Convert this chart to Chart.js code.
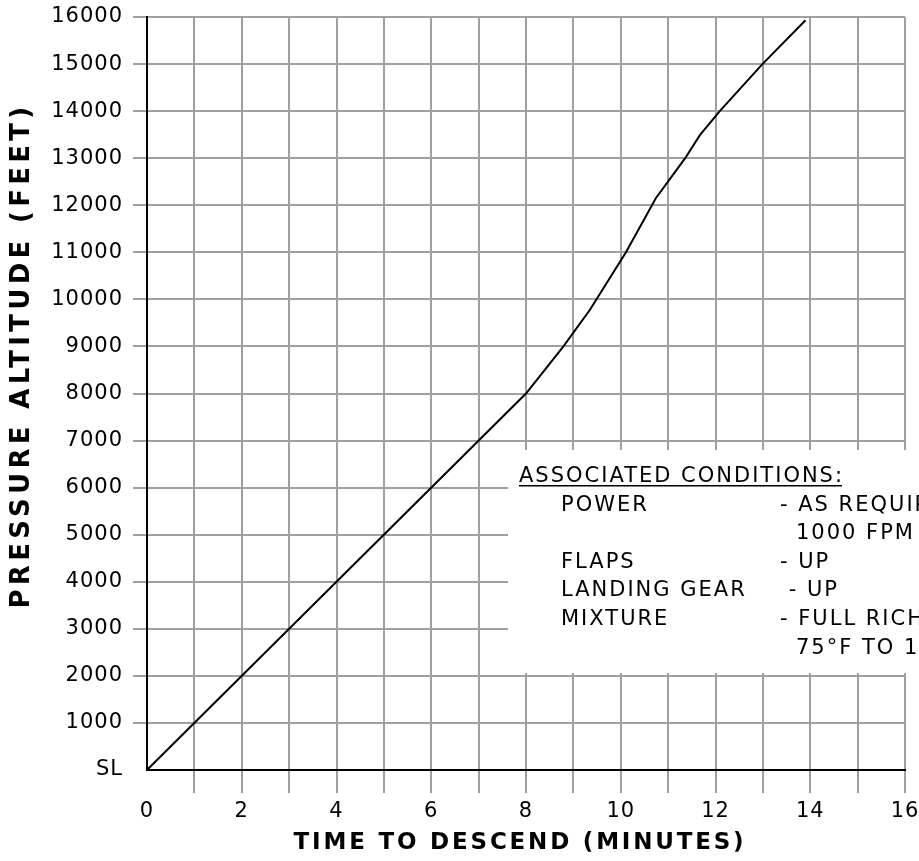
<!DOCTYPE html>
<html>
<head>
<meta charset="utf-8">
<script src="https://cdn.jsdelivr.net/npm/chart.js@4.4.1/dist/chart.umd.min.js"></script>
<style>
  html, body { margin: 0; padding: 0; background: #fff; }
  canvas { display: block; }
</style>
</head>
<body>
<canvas id="chart" width="919" height="861"></canvas>
<script>
// time to descend vs pressure altitude
const TIME_MIN = [0, 8, 8.79, 9.35, 10.11, 10.74, 11.36, 11.67, 12.09, 12.99, 13.9];
const ALTITUDE_FT = [0, 8000, 9000, 9780, 11000, 12150, 13000, 13490, 14000, 15000, 15930];

// tick labels, indexed by minute / by thousand feet
const X_TICK_LABELS = ['0', '', '2', '', '4', '', '6', '', '8', '', '10', '', '12', '', '14', '', '16'];
const Y_TICK_LABELS = ['SL', '1000', '2000', '3000', '4000', '5000', '6000', '7000', '8000',
    '9000', '10000', '11000', '12000', '13000', '14000', '15000', '16000'];

const NOTE_HEADER = 'ASSOCIATED CONDITIONS:';
const NOTE_LABELS = ['POWER', '', 'FLAPS', 'LANDING GEAR', 'MIXTURE', ''];
const NOTE_VALUES = ['- AS REQUIRED TO MAINTAIN', '1000 FPM', '- UP', ' - UP', '- FULL RICH', '75°F TO 100°F'];

const GRID = '#a0a0a0';
const FONT = '"DejaVu Sans", Verdana, sans-serif';

// hide the grid/tick at zero, the black axis line is drawn there instead
const gridColor = (c) => (c.tick && c.tick.value === 0 ? 'rgba(0,0,0,0)' : GRID);

// Chart.js has no letter spacing option, so wrap the scale text calls
const textTweaks = {
    x: { title: '2.8px', labels: '1px', dx: -6, dy: 0 },
    y: { title: '4.3px', labels: '1px', dx: 0, dy: -38 }
};

const spacingPlugin = {
    id: 'spacing',
    beforeDraw(chart) {
        Object.keys(textTweaks).forEach(id => {
            const scale = chart.scales[id];
            if (scale._tweaked) return;
            scale._tweaked = true;
            const t = textTweaks[id];
            const drawTitle = scale.drawTitle;
            const drawLabels = scale.drawLabels;
            scale.drawTitle = function () {
                const ctx = this.ctx;
                ctx.save();
                ctx.letterSpacing = t.title;
                ctx.translate(t.dx, t.dy);
                drawTitle.apply(this, arguments);
                ctx.restore();
            };
            scale.drawLabels = function () {
                const ctx = this.ctx;
                ctx.save();
                ctx.letterSpacing = t.labels;
                drawLabels.apply(this, arguments);
                ctx.restore();
            };
        });
    }
};

// white panel with the conditions text
const notePlugin = {
    id: 'conditions',
    beforeDatasetsDraw(chart) {
        const ctx = chart.ctx;
        ctx.save();
        ctx.fillStyle = '#fff';
        ctx.fillRect(508, 450, 420, 223);

        ctx.fillStyle = '#000';
        ctx.font = '21px ' + FONT;
        ctx.letterSpacing = '2px';
        ctx.textAlign = 'left';
        ctx.textBaseline = 'alphabetic';

        ctx.fillText(NOTE_HEADER, 519, 482);
        let w = ctx.measureText(NOTE_HEADER).width;
        ctx.fillRect(519, 485, w - 2, 1.5);

        for (let i = 0; i < NOTE_LABELS.length; i++) {
            let y = 510.5 + i * 28.6;
            if (NOTE_LABELS[i]) ctx.fillText(NOTE_LABELS[i], 561, y);
            let v = NOTE_VALUES[i];
            let x = v.indexOf('-') >= 0 ? 780 : 796;
            ctx.fillText(v, x, y);
        }
        ctx.restore();
    }
};

const points = TIME_MIN.map((t, i) => ({ x: t, y: ALTITUDE_FT[i] }));

new Chart(document.getElementById('chart'), {
    type: 'line',
    data: {
        datasets: [{
            data: points,
            borderColor: '#000',
            borderWidth: 2,
            tension: 0,
            pointRadius: 0,
            fill: false
        }]
    },
    options: {
        responsive: false,
        animation: false,
        layout: { padding: { top: 17, right: 14, left: 0, bottom: 0 } },
        plugins: {
            legend: { display: false },
            tooltip: { enabled: false }
        },
        scales: {
            x: {
                type: 'linear',
                min: 0,
                max: 16,
                afterFit: (s) => {
                    s.height = 91;
                    s.paddingLeft = 0;
                    s.paddingRight = 0;
                },
                grid: { color: gridColor, lineWidth: 2, tickLength: 23 },
                border: { color: '#000', width: 2 },
                ticks: {
                    stepSize: 1,
                    autoSkip: false,
                    maxRotation: 0,
                    padding: 6,
                    color: '#000',
                    font: { family: FONT, size: 21 },
                    callback: (v) => X_TICK_LABELS[v]
                },
                title: {
                    display: true,
                    text: 'TIME TO DESCEND (MINUTES)',
                    color: '#000',
                    font: { family: FONT, size: 23, weight: 'bold' },
                    padding: { top: 0, bottom: 4 }
                }
            },
            y: {
                min: 0,
                max: 16000,
                afterFit: (s) => {
                    s.width = 147;
                    s.paddingTop = 0;
                    s.paddingBottom = 0;
                },
                grid: { color: gridColor, lineWidth: 2, tickLength: 14 },
                border: { color: '#000', width: 2 },
                ticks: {
                    stepSize: 1000,
                    padding: 10,
                    color: '#000',
                    font: { family: FONT, size: 21 },
                    callback: (v) => Y_TICK_LABELS[v / 1000]
                },
                title: {
                    display: true,
                    text: 'PRESSURE ALTITUDE (FEET)',
                    color: '#000',
                    font: { family: FONT, size: 26, weight: 'bold' },
                    padding: { top: 7, bottom: 0 }
                }
            }
        }
    },
    plugins: [spacingPlugin, notePlugin]
});
</script>
</body>
</html>
